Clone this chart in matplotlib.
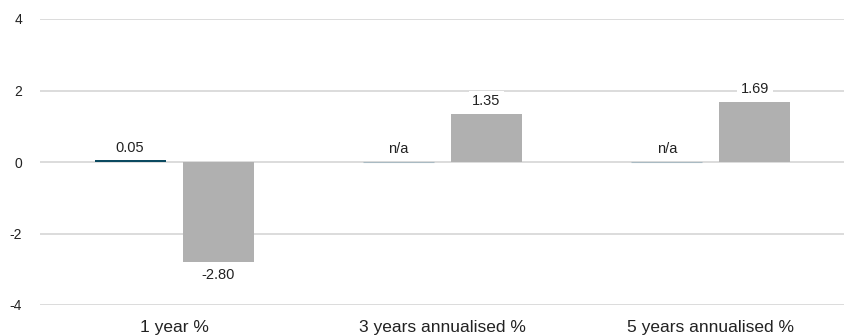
import numpy as np
import matplotlib
matplotlib.use("Agg")
from matplotlib import pyplot as plt

plt.rcParams['font.family'] = ['Liberation Sans', 'DejaVu Sans']

categories = ['1 year %', '3 years annualised %', '5 years annualised %']
fund = [0.05, None, None]
benchmark = [-2.80, 1.35, 1.69]
yticks = [-4, -2, 0, 2, 4]

fund_color = '#0b4a60'
bench_color = '#b0b0b0'

fig = plt.figure(figsize=(8.45, 3.36), dpi=100)
ax = fig.add_axes([40/845, 1 - 305/336, 1 - 40/845, (305 - 19)/336])

x = np.arange(len(categories))
w = 0.265
off = 0.164

box = dict(boxstyle='square,pad=0.25', fc='white', ec='none')

for i in range(len(categories)):
    v = fund[i]
    if v is None:
        ax.bar(x[i] - off, 0, w, color='none', edgecolor='#a9bac3', linewidth=0.8, zorder=3)
        ax.annotate('n/a', (x[i] - off, 0), xytext=(0, 4), textcoords='offset points',
                    ha='center', va='bottom', fontsize=10.5, color='#222222', bbox=box, zorder=4)
    else:
        ax.bar(x[i] - off, v, w, color=fund_color, zorder=3)
        ax.annotate(f'{v:.2f}', (x[i] - off, v), xytext=(0, 4), textcoords='offset points',
                    ha='center', va='bottom', fontsize=10.5, color='#222222', bbox=box, zorder=4)

    b = benchmark[i]
    ax.bar(x[i] + off, b, w, color=bench_color, zorder=3)
    if b >= 0:
        ax.annotate(f'{b:.2f}', (x[i] + off, b), xytext=(0, 4), textcoords='offset points',
                    ha='center', va='bottom', fontsize=10.5, color='#222222', bbox=box, zorder=4)
    else:
        ax.annotate(f'{b:.2f}', (x[i] + off, b), xytext=(0, -4), textcoords='offset points',
                    ha='center', va='top', fontsize=10.5, color='#222222', bbox=box, zorder=4)

ax.set_xlim(-0.5, 2.5)
ax.set_ylim(-4, 4)
ax.set_yticks(yticks)
ax.set_yticklabels([str(t) for t in yticks])
ax.set_xticks(x)
ax.set_xticklabels(categories)
ax.grid(axis='y', color='#d9d9d9', linewidth=1.3, zorder=0)
ax.set_axisbelow(True)
for s in ax.spines.values():
    s.set_visible(False)
ax.tick_params(axis='y', length=0, pad=13, labelsize=10, labelcolor='#222222')
ax.tick_params(axis='x', length=0, pad=11, labelsize=12.5, labelcolor='#222222')

fig.savefig('out.png', dpi=100)
